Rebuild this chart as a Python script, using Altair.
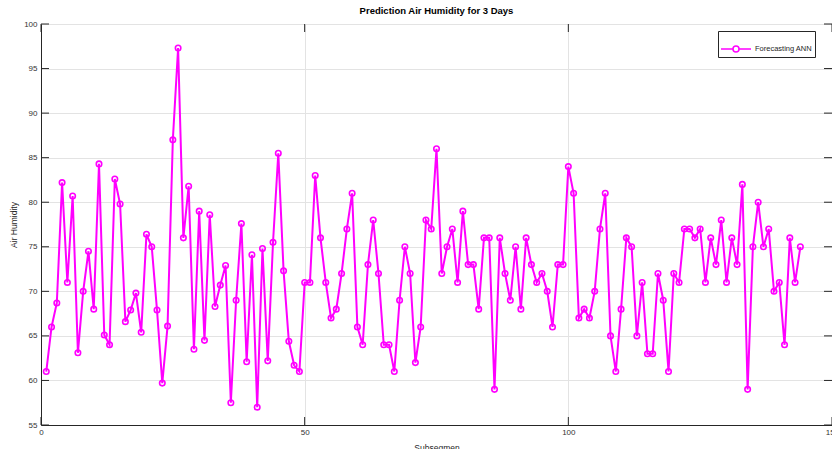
import altair as alt
import pandas as pd

humidity = [
    61, 66, 68.7, 82.2, 71, 80.7, 63.1, 70, 74.5, 68,
    84.3, 65.1, 64, 82.6, 79.8, 66.6, 67.9, 69.8, 65.4, 76.4,
    75, 67.9, 59.7, 66.1, 87, 97.3, 76, 81.8, 63.5, 79,
    64.5, 78.6, 68.3, 70.7, 72.9, 57.5, 69, 77.6, 62.1, 74.1,
    57, 74.8, 62.2, 75.5, 85.5, 72.3, 64.4, 61.7, 61, 71,
    71, 83, 76, 71, 67, 68, 72, 77, 81, 66,
    64, 73, 78, 72, 64, 64, 61, 69, 75, 72,
    62, 66, 78, 77, 86, 72, 75, 77, 71, 79,
    73, 73, 68, 76, 76, 59, 76, 72, 69, 75,
    68, 76, 73, 71, 72, 70, 66, 73, 73, 84,
    81, 67, 68, 67, 70, 77, 81, 65, 61, 68,
    76, 75, 65, 71, 63, 63, 72, 69, 61, 72,
    71, 77, 77, 76, 77, 71, 76, 73, 78, 71,
    76, 73, 82, 59, 75, 80, 75, 77, 70, 71,
    64, 76, 71, 75,
]
segments = list(range(1, len(humidity) + 1))
x_ticks = [0, 50, 100, 150]
y_ticks = [55, 60, 65, 70, 75, 80, 85, 90, 95, 100]
series_name = "Forecasting ANN"

df = pd.DataFrame({"Subsegmen": segments, "Air Humidity": humidity, "series": series_name})
xt = pd.DataFrame({"t": x_ticks})
yt = pd.DataFrame({"t": y_ticks})

MAG = "#ff00ff"
FONT = "Liberation Sans"
W, H = 791, 401

xscale = alt.Scale(domain=[0, 150], nice=False, zero=False)
yscale = alt.Scale(domain=[55, 100], nice=False, zero=False)

x_enc = alt.X("Subsegmen:Q", scale=xscale, title="Subsegmen",
              axis=alt.Axis(values=x_ticks, ticks=False, grid=True, gridColor="#e3e3e3",
                            labelFontSize=8, labelColor="#333333", labelPadding=3,
                            titleFontSize=8.5, titleFont=FONT, titleFontWeight="normal",
                            titleColor="#262626", titlePadding=7, labelFont=FONT,
                            domainColor="#262626", labelFlush=False))
y_enc = alt.Y("Air Humidity:Q", scale=yscale, title="Air Humidity",
              axis=alt.Axis(values=y_ticks, ticks=False, grid=True, gridColor="#e3e3e3",
                            labelFontSize=8, labelColor="#333333", labelPadding=4,
                            titleFontSize=8.5, titleFont=FONT, titleFontWeight="normal",
                            titleColor="#262626", titlePadding=5, labelFont=FONT,
                            domainColor="#262626"))

legend_path = "M-1,0L-0.2,0M0.2,0L1,0M0.2,0A0.2,0.2,0,1,1,-0.2,0A0.2,0.2,0,1,1,0.2,0"
color_enc = alt.Color("series:N", scale=alt.Scale(range=[MAG]),
                      legend=alt.Legend(title=None, orient="none", legendX=677, legendY=7,
                                        symbolType=legend_path, symbolSize=900,
                                        symbolStrokeWidth=1.5, symbolStrokeColor=MAG,
                                        symbolFillColor="transparent",
                                        labelFontSize=7.5, labelFont=FONT, labelColor="#262626",
                                        strokeColor="#262626", fillColor="white",
                                        padding=2, labelOffset=3))

line = alt.Chart(df).mark_line(strokeWidth=2, color=MAG).encode(x=x_enc, y=y_enc, color=color_enc)
pts = alt.Chart(df).mark_point(shape="circle", filled=False, size=30, strokeWidth=1.6,
                               color=MAG, opacity=1).encode(x="Subsegmen:Q", y="Air Humidity:Q")

tick_color = "#262626"
lt = alt.Chart(yt).mark_rule(color=tick_color, strokeWidth=1).encode(
    y=alt.Y("t:Q", scale=yscale), x=alt.value(0), x2=alt.value(8))
rt = alt.Chart(yt).mark_rule(color=tick_color, strokeWidth=1).encode(
    y=alt.Y("t:Q", scale=yscale), x=alt.value(W), x2=alt.value(W - 8))
bt = alt.Chart(xt).mark_rule(color=tick_color, strokeWidth=1).encode(
    x=alt.X("t:Q", scale=xscale), y=alt.value(H), y2=alt.value(H - 8))
tt = alt.Chart(xt).mark_rule(color=tick_color, strokeWidth=1).encode(
    x=alt.X("t:Q", scale=xscale), y=alt.value(0), y2=alt.value(8))

chart = alt.layer(line, pts, lt, rt, bt, tt).properties(
    width=W, height=H,
    title=alt.TitleParams("Prediction Air Humidity for 3 Days", fontSize=9.5, font=FONT,
                          fontWeight="bold", color="#000000", offset=5, anchor="middle"),
    autosize=alt.AutoSizeParams(type="none"),
    padding={"left": 41, "top": 24, "right": 0, "bottom": 24},
).configure_view(stroke="#262626", strokeWidth=1).configure(background="white")

chart.save("out.html", embed_options={"renderer": "svg", "actions": False})
